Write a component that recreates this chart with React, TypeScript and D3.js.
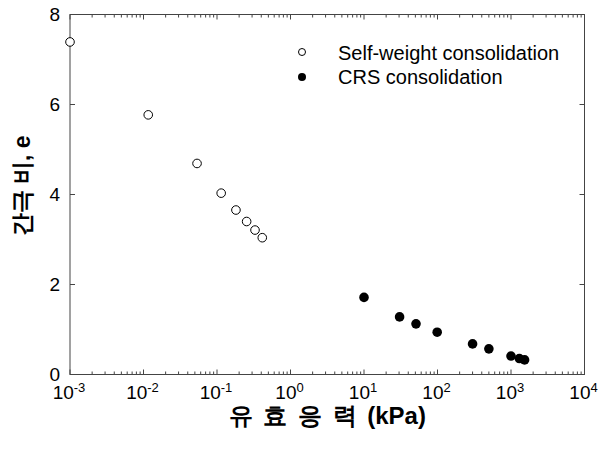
import React from "react";
import * as d3 from "d3";

const selfStress = [0.001, 0.0116, 0.0535, 0.114, 0.181, 0.253, 0.329, 0.413];
const selfVoid = [7.39, 5.77, 4.69, 4.03, 3.655, 3.4, 3.21, 3.04];
const crsStress = [10, 30.5, 51, 99, 300, 500, 1000, 1300, 1530];
const crsVoid = [1.713, 1.28, 1.126, 0.94, 0.68, 0.57, 0.41, 0.355, 0.325];
const xDecades = [-3, -2, -1, 0, 1, 2, 3, 4];
const yTicks = [0, 2, 4, 6, 8];
const legendLabels = ["Self-weight consolidation", "CRS consolidation"];

export default function App() {
  const W = 599, H = 452;
  const L = 70, R = 584.5, T = 14.5, B = 374.5;
  const x = d3.scaleLog().domain([1e-3, 1e4]).range([L, R]);
  const y = d3.scaleLinear().domain([0, 8]).range([B, T]);
  const minor: number[] = [];
  for (let d = -3; d < 4; d++) for (let k = 2; k <= 9; k++) minor.push(k * Math.pow(10, d));
  const font = "Arial, 'Liberation Sans', sans-serif";
  const axisCol = "#444";
  return (
    <div style={{ position: "absolute", left: 0, top: 0 }}>
      <svg width={W} height={H} style={{ display: "block" }} fontFamily={font}>
        <rect x={0} y={0} width={W} height={H} fill="#fff" />
        {minor.map((v, i) => (
          <g key={"m" + i} stroke={axisCol} strokeWidth={1}>
            <line x1={x(v)} x2={x(v)} y1={B} y2={B - 3} />
            <line x1={x(v)} x2={x(v)} y1={T} y2={T + 3} />
          </g>
        ))}
        {xDecades.map((d) => (
          <g key={"M" + d} stroke={axisCol} strokeWidth={1}>
            <line x1={x(Math.pow(10, d))} x2={x(Math.pow(10, d))} y1={B} y2={B - 5} />
            <line x1={x(Math.pow(10, d))} x2={x(Math.pow(10, d))} y1={T} y2={T + 5} />
          </g>
        ))}
        {yTicks.map((v) => (
          <g key={"y" + v} stroke={axisCol} strokeWidth={1}>
            <line x1={L} x2={L + 5} y1={y(v)} y2={y(v)} />
            <line x1={R} x2={R - 5} y1={y(v)} y2={y(v)} />
          </g>
        ))}
        <rect x={L} y={T} width={R - L} height={B - T} fill="none" stroke={axisCol} strokeWidth={1} />
        {xDecades.map((d) => (
          <text key={"xl" + d} x={x(Math.pow(10, d)) - 1} y={399} textAnchor="middle" fontSize={19} fill="#000">
            10<tspan dy={-7} fontSize={13}>{d}</tspan>
          </text>
        ))}
        {yTicks.map((v) => (
          <text key={"yl" + v} x={60} y={y(v) + 6} textAnchor="end" fontSize={19} fill="#000">
            {v}
          </text>
        ))}
        {selfStress.map((s, i) => (
          <circle key={"s" + i} cx={x(s)} cy={y(selfVoid[i])} r={4.3} fill="#fff" stroke="#000" strokeWidth={1} />
        ))}
        {crsStress.map((s, i) => (
          <circle key={"c" + i} cx={x(s)} cy={y(crsVoid[i])} r={4.8} fill="#000" />
        ))}
        <circle cx={302} cy={52} r={3.5} fill="#fff" stroke="#000" strokeWidth={1} />
        <circle cx={302} cy={77} r={4} fill="#000" />
        <text x={338} y={60} fontSize={20} fill="#000">{legendLabels[0]}</text>
        <text x={338} y={84} fontSize={20} fill="#000">{legendLabels[1]}</text>
        <text x={(L + R) / 2} y={424} textAnchor="middle" fontSize={24} fontWeight="bold" fill="#000" style={{ wordSpacing: "4px" }}>
          유 효 응 력 (kPa)
        </text>
        <text transform={`translate(30, 186) rotate(-90)`} textAnchor="middle" fontSize={23} fontWeight="bold" fill="#000">
          간극 비, e
        </text>
      </svg>
    </div>
  );
}
